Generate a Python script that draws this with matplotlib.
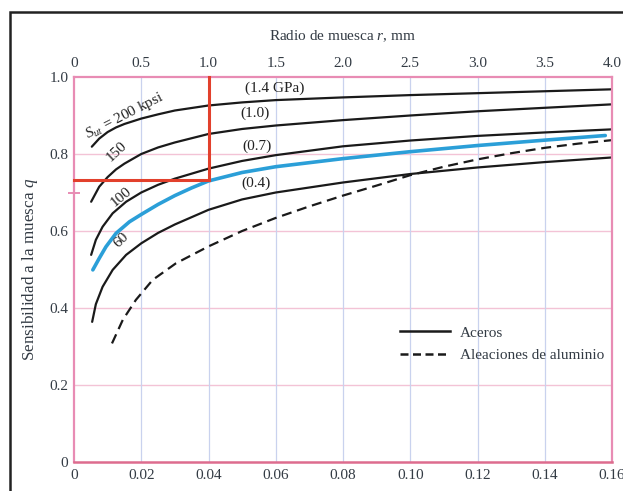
import matplotlib
matplotlib.use("Agg")
import matplotlib.pyplot as plt
from matplotlib.lines import Line2D
from matplotlib.patches import Rectangle

# Notch radius r (in) and notch sensitivity q
r_200 = [0.0053, 0.0075, 0.01, 0.0125, 0.015, 0.02, 0.025, 0.03, 0.04, 0.05, 0.06, 0.08, 0.10, 0.12, 0.14, 0.16]
q_200 = [0.819, 0.840, 0.857, 0.869, 0.878, 0.892, 0.903, 0.913, 0.926, 0.934, 0.940, 0.947, 0.953, 0.958, 0.963, 0.968]

r_150 = [0.0051, 0.0075, 0.01, 0.0125, 0.015, 0.02, 0.025, 0.03, 0.04, 0.05, 0.06, 0.08, 0.10, 0.12, 0.14, 0.16]
q_150 = [0.676, 0.715, 0.740, 0.760, 0.775, 0.800, 0.817, 0.830, 0.852, 0.865, 0.874, 0.888, 0.900, 0.911, 0.920, 0.929]

r_100 = [0.0051, 0.0065, 0.0085, 0.0115, 0.0155, 0.02, 0.025, 0.03, 0.04, 0.05, 0.06, 0.08, 0.10, 0.12, 0.14, 0.16]
q_100 = [0.538, 0.577, 0.611, 0.646, 0.676, 0.700, 0.720, 0.736, 0.762, 0.782, 0.797, 0.820, 0.835, 0.847, 0.856, 0.864]

r_blue = [0.0056, 0.0075, 0.0095, 0.0125, 0.0165, 0.02, 0.025, 0.03, 0.035, 0.04, 0.05, 0.06, 0.08, 0.10, 0.12, 0.14, 0.158]
q_blue = [0.499, 0.529, 0.559, 0.594, 0.624, 0.643, 0.669, 0.692, 0.712, 0.730, 0.752, 0.767, 0.788, 0.806, 0.822, 0.836, 0.848]

r_60 = [0.0054, 0.0065, 0.0085, 0.0115, 0.0155, 0.02, 0.025, 0.03, 0.04, 0.05, 0.06, 0.08, 0.10, 0.12, 0.14, 0.16]
q_60 = [0.364, 0.410, 0.455, 0.499, 0.538, 0.568, 0.595, 0.617, 0.655, 0.682, 0.700, 0.726, 0.748, 0.765, 0.779, 0.791]

r_al = [0.0113, 0.0145, 0.0184, 0.0234, 0.0303, 0.04, 0.05, 0.06, 0.07, 0.08, 0.09, 0.10, 0.11, 0.12, 0.13, 0.14, 0.15, 0.16]
q_al = [0.308, 0.369, 0.421, 0.473, 0.516, 0.560, 0.600, 0.634, 0.664, 0.692, 0.718, 0.745, 0.767, 0.786, 0.802, 0.816, 0.827, 0.836]

# reading example: r = 1.0 mm (0.04 in) -> q = 0.732
r_read = 0.04
q_read = 0.732

x_ticks = [0, 0.02, 0.04, 0.06, 0.08, 0.10, 0.12, 0.14, 0.16]
x_labels = ["0", "0.02", "0.04", "0.06", "0.08", "0.10", "0.12", "0.14", "0.16"]
y_ticks = [0, 0.2, 0.4, 0.6, 0.8, 1.0]
y_labels = ["0", "0.2", "0.4", "0.6", "0.8", "1.0"]
mm_ticks = [0, 0.5, 1.0, 1.5, 2.0, 2.5, 3.0, 3.5, 4.0]
mm_labels = ["0", "0.5", "1.0", "1.5", "2.0", "2.5", "3.0", "3.5", "4.0"]

TXT = "#333b44"
PINK = "#e88cb4"
PINK_GRID = "#f3c3d6"
BLUE_GRID = "#c9d2ee"
RED = "#e2402c"
BLUE = "#2b9fd8"

plt.rcParams["font.family"] = ["Liberation Serif", "DejaVu Serif"]
plt.rcParams["mathtext.fontset"] = "custom"
plt.rcParams["mathtext.rm"] = "Liberation Serif"
plt.rcParams["mathtext.it"] = "Liberation Serif:italic"

fig = plt.figure(figsize=(6.23, 4.91), dpi=100)
ax = fig.add_axes([74 / 623, 29 / 491, 538 / 623, 385 / 491])

ax.set_xlim(0, 0.16)
ax.set_ylim(0, 1.0)

# grid: pink horizontals, light blue verticals
for yv in y_ticks[1:-1]:
    ax.axhline(yv, color=PINK_GRID, lw=1.0, zorder=0)
for xv in x_ticks[1:-1]:
    ax.axvline(xv, color=BLUE_GRID, lw=0.9, zorder=0)

for s in ["left", "top", "right"]:
    ax.spines[s].set_color(PINK)
    ax.spines[s].set_linewidth(1.6)
ax.spines["bottom"].set_color("#dd6c8e")
ax.spines["bottom"].set_linewidth(1.8)

kw = dict(color="#1a1a1a", lw=1.6, solid_capstyle="round", solid_joinstyle="round")
ax.plot(r_200, q_200, **kw)
ax.plot(r_150, q_150, **kw)
ax.plot(r_100, q_100, **kw)
ax.plot(r_60, q_60, **kw)
ax.plot(r_al, q_al, color="#1a1a1a", lw=1.6, dashes=(4.5, 2.6))
ax.plot(r_blue, q_blue, color=BLUE, lw=2.6, solid_capstyle="round",
        solid_joinstyle="round", zorder=3)

# red reading lines
ax.plot([r_read, r_read], [q_read, 1.0], color=RED, lw=2.2, zorder=4, clip_on=False)
ax.plot([0, r_read], [q_read, q_read], color=RED, lw=2.2, zorder=4, clip_on=False)

ax.set_xticks(x_ticks)
ax.set_xticklabels(x_labels)
ax.set_yticks(y_ticks)
ax.set_yticklabels(y_labels)
ax.set_yticks([0.7], minor=True)
ax.tick_params(which="major", length=0, labelsize=11, labelcolor=TXT)
ax.tick_params(axis="x", pad=5)
ax.tick_params(axis="y", pad=4)
ax.tick_params(axis="y", which="minor", length=9, width=1.4, color=PINK, direction="inout")

top = ax.secondary_xaxis("top", functions=(lambda v: v * 25, lambda v: v / 25))
top.set_xticks(mm_ticks)
top.set_xticklabels(mm_labels)
top.tick_params(length=0, labelsize=11, labelcolor=TXT, pad=5)
top.spines["top"].set_visible(False)
top.set_xlabel("Radio de muesca $\\it{r}$, mm", fontsize=11, color=TXT, labelpad=12)

ax.set_ylabel("Sensibilidad a la muesca $\\it{q}$", fontsize=12.3, color=TXT)
ax.yaxis.set_label_coords(-0.064, 0.50)

# curve labels
lab = dict(fontsize=11, color="#222222", ha="center", va="center")
ax.text(0.0150, 0.899, "$\\it{S_{ut}}$ = 200 kpsi", rotation=27, **lab)
ax.text(0.0127, 0.806, "150", rotation=43, **lab)
ax.text(0.0139, 0.689, "100", rotation=40, **lab)
ax.text(0.0142, 0.577, "60", rotation=45, **lab)
ax.text(0.0598, 0.971, "(1.4 GPa)", **lab)
ax.text(0.0538, 0.906, "(1.0)", **lab)
ax.text(0.0544, 0.819, "(0.7)", **lab)
ax.text(0.0541, 0.725, "(0.4)", **lab)

handles = [Line2D([], [], color="#1a1a1a", lw=1.8),
           Line2D([], [], color="#1a1a1a", lw=1.8, dashes=(3.2, 1.8))]
ax.legend(handles, ["Aceros", "Aleaciones de aluminio"], loc="center left",
          bbox_to_anchor=(0.606, 0.306), frameon=False, fontsize=11,
          handlelength=3.3, handletextpad=0.6, labelspacing=0.6,
          borderpad=0, borderaxespad=0, labelcolor=TXT)

# outer frame of the figure panel
fig.add_artist(Rectangle((10 / 623, -0.2), 1.3, 0.2 + 479 / 491,
                         transform=fig.transFigure, fill=False,
                         edgecolor="#222222", lw=1.8))

fig.savefig("out.png", dpi=100)
